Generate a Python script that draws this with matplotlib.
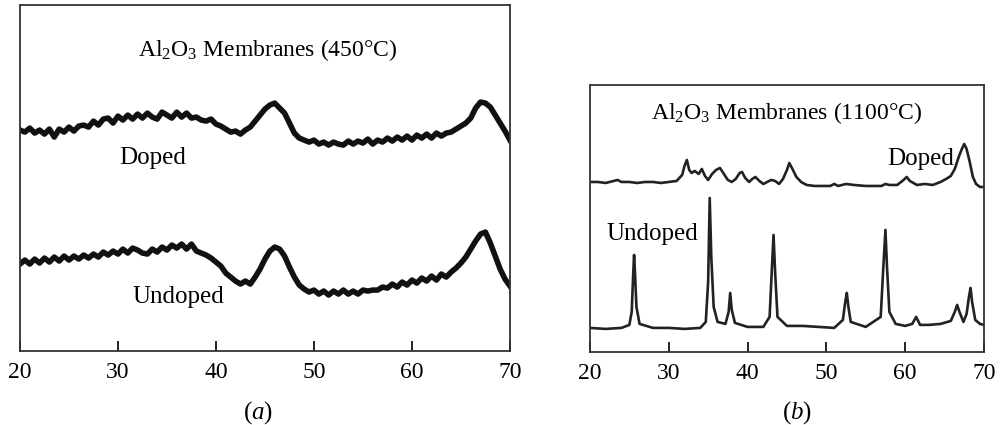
import numpy as np
import matplotlib
matplotlib.use("Agg")
import matplotlib.pyplot as plt

plt.rcParams['font.family'] = ['Liberation Serif', 'DejaVu Serif']
plt.rcParams['mathtext.fontset'] = 'custom'
plt.rcParams['mathtext.rm'] = 'Liberation Serif'
plt.rcParams['mathtext.it'] = 'Liberation Serif:italic'

# panel (a): 450 C, sampled every 0.5 deg from 20 to 70
two_theta_a = np.arange(20, 70.01, 0.5)
doped_a = [221, 219, 223, 218, 221, 217, 222, 214, 222, 219, 224, 220, 225, 226, 224, 230, 226, 232, 233, 228,
           235, 231, 236, 232, 237, 233, 238, 234, 232, 239, 236, 233, 239, 234, 238, 233, 234, 231, 230, 232,
           227, 225, 222, 219, 220, 217, 221, 224, 230, 236, 242, 246, 248, 243, 238, 228, 218, 213, 211, 209,
           211, 207, 209, 206, 209, 207, 206, 210, 207, 210, 208, 212, 207, 211, 209, 213, 210, 214, 211, 215,
           211, 216, 213, 217, 213, 218, 215, 218, 219, 222, 225, 228, 233, 243, 249, 248, 244, 236, 228, 220,
           211]
undoped_a = [87, 91, 87, 92, 88, 93, 89, 94, 90, 95, 91, 95, 92, 96, 93, 97, 94, 99, 96, 100,
             97, 102, 98, 103, 101, 98, 97, 102, 99, 104, 101, 106, 103, 107, 102, 107, 100, 98, 96, 93,
             89, 85, 78, 74, 70, 67, 70, 67, 74, 82, 92, 100, 104, 102, 95, 84, 74, 66, 62, 59,
             61, 57, 60, 56, 60, 57, 61, 57, 60, 57, 61, 60, 61, 61, 64, 63, 67, 64, 69, 66,
             71, 68, 73, 70, 75, 71, 77, 74, 79, 83, 88, 94, 102, 110, 117, 119, 108, 95, 82, 72,
             65]

# panel (b): 1100 C
two_theta_b_undoped = [20, 22, 24, 25.0, 25.3, 25.5, 25.6, 25.7, 25.9, 26.3, 28, 30, 32, 34, 34.7, 35.0, 35.2, 35.4,
                       35.7, 36.2, 37.2, 37.6, 37.8, 38.0, 38.4, 40, 42, 42.8, 43.1, 43.3, 43.5, 43.8, 45, 47,
                       49, 51, 52.1, 52.4, 52.6, 52.8, 53.1, 55, 56.9, 57.2, 57.5, 57.7, 58.0, 58.8, 60, 60.9,
                       61.4, 61.9, 63, 64.5, 65.8, 66.3, 66.6, 66.9, 67.4, 67.8, 68.1, 68.3, 68.5, 68.9, 69.5, 70]
undoped_b = [24, 23, 24, 27, 40, 80, 97, 82, 45, 28, 24, 24, 23, 24, 30, 70, 154, 95,
             45, 30, 28, 40, 59, 42, 29, 25, 25, 35, 85, 117, 80, 35, 26, 26,
             25, 24, 32, 50, 59, 45, 30, 25, 35, 80, 122, 85, 40, 28, 26, 28,
             35, 27, 27, 28, 31, 40, 47, 40, 30, 38, 55, 64, 50, 32, 28, 27]
two_theta_b_doped = [20, 21, 22, 23, 23.5, 24, 25, 26, 27, 28, 29, 30, 31, 31.7, 32.0, 32.3, 32.6, 32.9, 33.3, 33.8,
                     34.2, 34.6, 35.0, 35.5, 36.0, 36.5, 37.0, 37.5, 38.0, 38.5, 39.0, 39.3, 39.7, 40.2, 40.6,
                     41.0, 41.5, 42.0, 42.5, 43.0, 43.5, 44.0, 44.5, 45.0, 45.3, 45.7, 46.2, 46.8, 47.5, 48.5,
                     49.5, 50.5, 51.0, 51.5, 52.5, 53.5, 55, 56, 57, 57.5, 58, 59, 59.8, 60.2, 60.6, 61.5, 62.5,
                     63.5, 64.5, 65.2, 65.8, 66.3, 66.8, 67.2, 67.5, 67.8, 68.2, 68.6, 69, 69.5, 70]
doped_b = [170, 170, 169, 171, 172, 170, 170, 169, 170, 170, 169, 170, 171, 177, 186, 192, 182, 179, 181, 178,
           183, 176, 172, 178, 182, 184, 178, 172, 170, 173, 179, 180, 174, 170, 173,
           175, 171, 168, 170, 172, 171, 168, 173, 182, 189, 183, 175, 170, 167, 166,
           166, 166, 168, 166, 168, 167, 166, 166, 166, 168, 167, 167, 172, 175, 171, 167, 168,
           167, 170, 173, 176, 183, 195, 203, 208, 203, 190, 175, 168, 165, 165]

xticks = [20, 30, 40, 50, 60, 70]

fig = plt.figure(figsize=(10.04, 4.25), dpi=100)
ax1 = fig.add_axes([0.0199, 0.174, 0.488, 0.814])
ax2 = fig.add_axes([0.5876, 0.172, 0.3924, 0.628])

ax1.plot(two_theta_a, doped_a, color='#111111', lw=4.0)
ax1.plot(two_theta_a, undoped_a, color='#111111', lw=4.0)
ax1.set_ylim(0, 346)
ax1.text(0.505, 0.87, 'Al$_2$O$_3$ Membranes (450°C)', transform=ax1.transAxes, ha='center', va='center', fontsize=17)
ax1.text(33.5, 351 - 158, 'Doped', ha='center', va='center', fontsize=18)
ax1.text(36.2, 351 - 297, 'Undoped', ha='center', va='center', fontsize=18)

ax2.plot(two_theta_b_doped, doped_b, color='#222222', lw=1.9)
ax2.plot(two_theta_b_undoped, undoped_b, color='#222222', lw=1.9)
ax2.set_ylim(0, 267)
ax2.text(0.5, 0.895, 'Al$_2$O$_3$ Membranes (1100°C)', transform=ax2.transAxes, ha='center', va='center', fontsize=17)
ax2.text(62.0, 352 - 159, 'Doped', ha='center', va='center', fontsize=18)
ax2.text(27.9, 352 - 234, 'Undoped', ha='center', va='center', fontsize=18)

for ax in (ax1, ax2):
    ax.set_xlim(20, 70)
    ax.set_xticks(xticks)
    ax.set_yticks([])
    ax.tick_params(axis='x', direction='in', length=7, width=1.4, labelsize=17, pad=8, color='#222222')
    for s in ax.spines.values():
        s.set_linewidth(1.3)
        s.set_color('#333333')

fig.text(258 / 1004, 0.03, r'($\mathit{a}$)', ha='center', va='center', fontsize=18)
fig.text(797 / 1004, 0.03, r'($\mathit{b}$)', ha='center', va='center', fontsize=18)

fig.savefig('out.png', dpi=100)
